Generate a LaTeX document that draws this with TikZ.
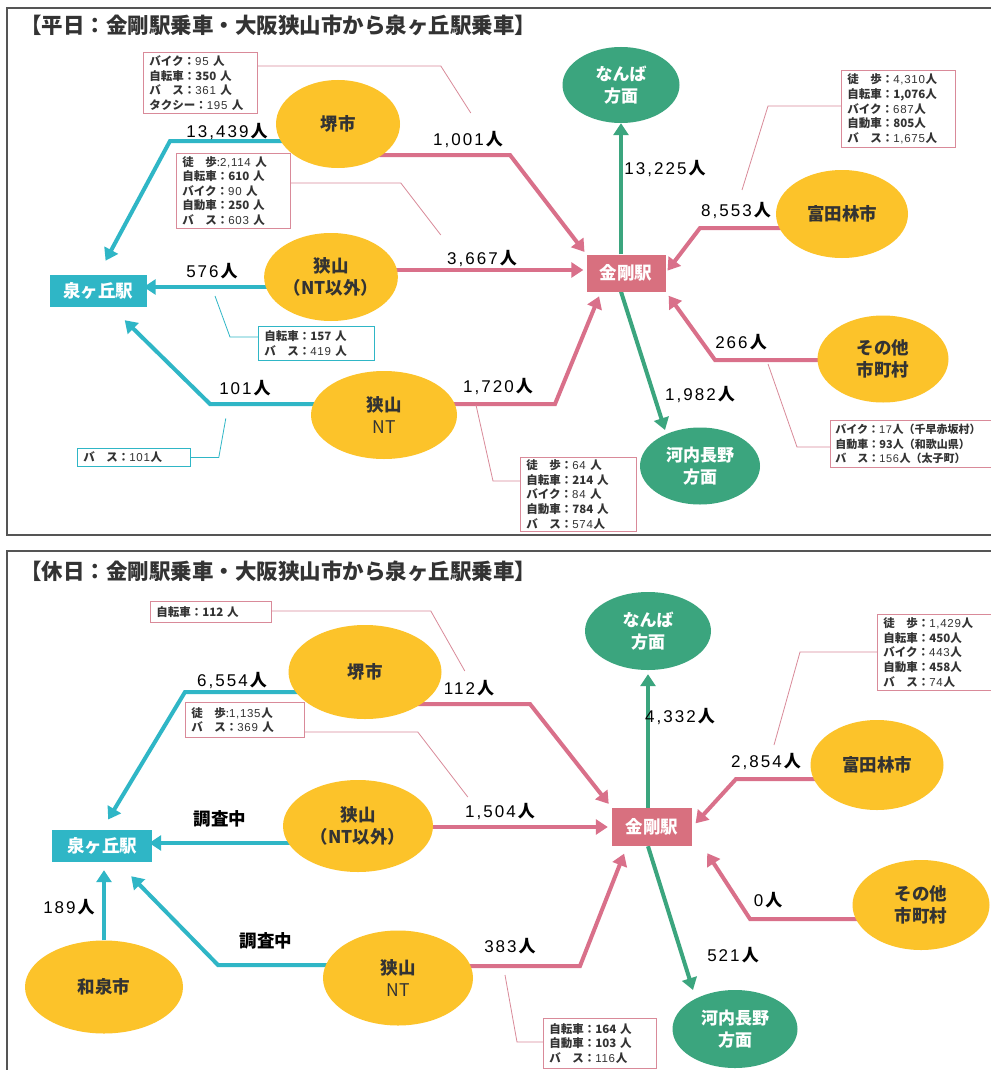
\documentclass[tikz,border=0pt]{standalone}
\usepackage{fontspec}
\setmainfont{Noto Sans CJK JP}
\newfontfamily\numfont{Liberation Sans}[LetterSpace=12]
\newfontfamily\boxnum{Liberation Sans}[LetterSpace=6]
\usetikzlibrary{shapes.geometric,arrows.meta,backgrounds}
\definecolor{tealc}{HTML}{2FB6C6}
\definecolor{pinkc}{HTML}{D9708A}
\definecolor{kongoc}{HTML}{D8707F}
\definecolor{greenc}{HTML}{3BA57E}
\definecolor{yellowc}{HTML}{FCC32A}
\definecolor{textc}{HTML}{333333}
\definecolor{boxpink}{HTML}{D98A99}
\definecolor{framec}{HTML}{555555}
\newcommand\hb{\textbf{人}}
\newcommand\bsu{\textbf{バ\hspace{1em}ス：}}
\newcommand\toho{\textbf{徒\hspace{1em}歩：}}
\newcommand\nv[1]{{\numfont #1}\textbf{人}}
\newcommand\bv[1]{{\boxnum #1}}
\begin{document}
\begin{tikzpicture}[x=1pt,y=-1pt,
  yel/.style={ellipse, fill=yellowc, text=textc, font=\bfseries\fontsize{17.5}{22}\selectfont, align=center, inner sep=0pt},
  grn/.style={ellipse, fill=greenc, text=white, font=\bfseries\fontsize{17}{22}\selectfont, align=center, inner sep=0pt},
  station/.style={rectangle, text=white, font=\bfseries\fontsize{17.5}{20}\selectfont, inner sep=0pt},
  tarr/.style={draw=tealc, line width=4pt, -{Triangle[width=15pt,length=12pt]}},
  parr/.style={draw=pinkc, line width=4pt, -{Triangle[width=15pt,length=12pt]}},
  garr/.style={draw=greenc, line width=4pt, -{Triangle[width=15pt,length=12pt]}},
  num/.style={font=\fontsize{17}{20}\selectfont, text=black, inner sep=0pt},
  chosa/.style={font=\bfseries\fontsize{17.5}{20}\selectfont, text=black, inner sep=0pt},
  infobox/.style={draw=boxpink, line width=0.8pt, fill=white, anchor=north west, align=left, font=\fontsize{11.5}{14.6}\selectfont, inner xsep=6pt, inner ysep=0pt, text=textc},
  tinfobox/.style={infobox, draw=tealc},
  call/.style={draw=boxpink, line width=0.8pt},
  tcall/.style={draw=tealc, line width=0.8pt},
  frame/.style={draw=framec, line width=1.5pt},
  title/.style={anchor=west, font=\bfseries\fontsize{21.5}{24}\selectfont, text=textc, inner sep=0pt}
]
\useasboundingbox (0,0) rectangle (990,1070);

% ---------- top panel ----------
\node[title] (t1) at (20,25) {【平日：金剛駅乗車・大阪狭山市から泉ヶ丘駅乗車】};

\node[yel, minimum width=124pt, minimum height=88pt] (sakai1) at (338,124) {堺市};
\node[yel, minimum width=122pt, minimum height=88pt] (sayama1) at (331,277) {狭山\\（NT以外）};
\node[yel, minimum width=146pt, minimum height=88pt] (nt1) at (384,415) {狭山\\{\mdseries NT}};
\node[yel, minimum width=132pt, minimum height=88pt] (tomita1) at (842,214) {富田林市};
\node[yel, minimum width=131pt, minimum height=87pt] (sonota1) at (883,359) {その他\\市町村};
\node[grn, minimum width=117pt, minimum height=76pt] (nanba1) at (621,85) {なんば\\方面};
\node[grn, minimum width=120pt, minimum height=77pt] (kawachi1) at (700,466) {河内長野\\方面};
\node[station, fill=tealc, minimum width=97pt, minimum height=32pt] (izumi1) at (98,291) {泉ヶ丘駅};
\node[station, fill=kongoc, minimum width=79pt, minimum height=37pt] (kongo1) at (626,273) {金剛駅};

\coordinate (b1) at (170,141);
\coordinate (b3) at (210,404);
\coordinate (b4) at (510,155);
\coordinate (b6) at (555,404);
\coordinate (b9) at (700,228);
\coordinate (b10) at (715,360);

\node[infobox, text width=102pt, minimum height=61pt] (boxA) at (143,52)
  {\textbf{バイク：}\bv{95} \hb\\\textbf{自転車：350 人}\\\bsu \bv{361} \hb\\\textbf{タクシー：}\bv{195} \hb};
\node[infobox, text width=102pt, minimum height=75pt] (boxB) at (176,153)
  {\textbf{徒\hspace{1em}歩}:\bv{2,114} \hb\\\textbf{自転車：610 人}\\\textbf{バイク：}\bv{90} \hb\\\textbf{自動車：250 人}\\\bsu \bv{603} \hb};
\node[tinfobox, text width=104pt, minimum height=34pt] (boxC) at (258,326)
  {\textbf{自転車：157 人}\\\bsu \bv{419} \hb};
\node[tinfobox, text width=101pt, minimum height=18pt] (boxD) at (77,448)
  {\bsu \bv{101}\hb};
\node[infobox, text width=102pt, minimum height=77pt] (boxE) at (841,70)
  {\toho \bv{4,310}\hb\\\textbf{自転車：1,076人}\\\textbf{バイク：}\bv{687}\hb\\\textbf{自動車：805人}\\\bsu \bv{1,675}\hb};
\node[infobox, font=\fontsize{11}{14.6}\selectfont, inner xsep=5pt, text width=152pt, minimum height=47pt] (boxF) at (830,420)
  {\textbf{バイク：}\bv{17}\textbf{人（千早赤坂村）}\\\textbf{自動車：93人（和歌山県）}\\\bsu \bv{156}\textbf{人（太子町）}};
\node[infobox, text width=104pt, minimum height=74pt] (boxG) at (520,457)
  {\toho \bv{64} \hb\\\textbf{自転車：214 人}\\\textbf{バイク：}\bv{84} \hb\\\textbf{自動車：784 人}\\\bsu \bv{574}\hb};

\node[num] (l1) at (227,131) {\nv{13,439}};
\node[num] (l2) at (468,139) {\nv{1,001}};
\node[num] (l3) at (482,258) {\nv{3,667}};
\node[num] (l4) at (212,271) {\nv{576}};
\node[num] (l5) at (245,388) {\nv{101}};
\node[num] (l6) at (498,386) {\nv{1,720}};
\node[num] (l7) at (665,168) {\nv{13,225}};
\node[num] (l8) at (736,210) {\nv{8,553}};
\node[num] (l9) at (741,342) {\nv{266}};
\node[num] (l10) at (700,394) {\nv{1,982}};

% ---------- bottom panel ----------
\node[title] (t2) at (20,571) {【休日：金剛駅乗車・大阪狭山市から泉ヶ丘駅乗車】};

\node[yel, minimum width=153pt, minimum height=94pt] (sakai2) at (365,672) {堺市};
\node[yel, minimum width=150pt, minimum height=92pt] (sayama2) at (358,826) {狭山\\（NT以外）};
\node[yel, minimum width=150pt, minimum height=95pt] (nt2) at (398,978) {狭山\\{\mdseries NT}};
\node[yel, minimum width=158pt, minimum height=93pt] (wazumi) at (104,987) {和泉市};
\node[yel, minimum width=133pt, minimum height=90pt] (tomita2) at (877,765) {富田林市};
\node[yel, minimum width=137pt, minimum height=90pt] (sonota2) at (921,905) {その他\\市町村};
\node[grn, minimum width=126pt, minimum height=78pt] (nanba2) at (648,631) {なんば\\方面};
\node[grn, minimum width=125pt, minimum height=78pt] (kawachi2) at (735,1029) {河内長野\\方面};
\node[station, fill=tealc, minimum width=100pt, minimum height=32pt] (izumi2) at (102,846) {泉ヶ丘駅};
\node[station, fill=kongoc, minimum width=80pt, minimum height=38pt] (kongo2) at (652,827) {金剛駅};

\coordinate (d1) at (185,692);
\coordinate (d3) at (218,965);
\coordinate (d5) at (530,704);
\coordinate (d7) at (580,966);
\coordinate (d10) at (736,779);
\coordinate (d11) at (750,919);

\node[infobox, text width=109pt, minimum height=21pt] (boxH) at (150,601)
  {\textbf{自転車：112 人}};
\node[infobox, text width=107pt, minimum height=35pt] (boxI) at (185,702)
  {\textbf{徒\hspace{1em}歩}:\bv{1,135}\hb\\\bsu \bv{369} \hb};
\node[infobox, text width=108pt, minimum height=76pt] (boxJ) at (877,614)
  {\toho \bv{1,429}\hb\\\textbf{自転車：450人}\\\textbf{バイク：}\bv{443}\hb\\\textbf{自動車：458人}\\\bsu \bv{74}\hb};
\node[infobox, text width=101pt, minimum height=50pt] (boxK) at (543,1018)
  {\textbf{自転車：164 人}\\\textbf{自動車：103 人}\\\bsu \bv{116}\hb};

\node[num] (m1) at (232,680) {\nv{6,554}};
\node[num] (m2) at (469,688) {\nv{112}};
\node[chosa] (m3) at (220,819) {調査中};
\node[num] (m4) at (500,811) {\nv{1,504}};
\node[chosa] (m5) at (266,941) {調査中};
\node[num] (m6) at (69,907) {\nv{189}};
\node[num] (m7) at (510,946) {\nv{383}};
\node[num] (m8) at (680,716) {\nv{4,332}};
\node[num] (m9) at (766,761) {\nv{2,854}};
\node[num] (m10) at (768,900) {\nv{0}};
\node[num] (m11) at (733,955) {\nv{521}};

\begin{pgfonlayer}{background}
\fill[white] (0,0) rectangle (990,1070);
\draw[frame] (7,8) rectangle (1005,535);
\draw[frame] (7,551) rectangle (1005,1090);
% top connectors
\draw[tarr, shorten >=16pt] (sakai1.center |- b1) -- (b1) -- (izumi1.north);
\draw[tarr, shorten >=-3pt] ([yshift=-10pt]sayama1.center) -- ([yshift=4pt]izumi1.east);
\draw[tarr] (nt1.center |- b3) -- (b3) -- ([xshift=-22pt,yshift=-13pt]izumi1.south east);
\draw[parr, shorten >=3pt] (sakai1.center |- b4) -- (b4) -- (kongo1.north west);
\draw[parr, shorten >=3pt] ([yshift=7pt]sayama1.center) -- ([yshift=3pt]kongo1.west);
\draw[parr, shorten >=5pt] (nt1.center |- b6) -- (b6) -- ([xshift=-25pt]kongo1.south);
\draw[garr] ([xshift=-5pt]kongo1.north) -- (nanba1.south);
\draw[garr] ([xshift=-5pt]kongo1.south) -- ([xshift=-35pt,yshift=36pt]kawachi1.center);
\draw[parr, shorten >=3pt] (tomita1.center |- b9) -- (b9) -- (kongo1.east);
\draw[parr, shorten >=5pt] (sonota1.center |- b10) -- (b10) -- (kongo1.south east);
% top callouts
\draw[call] ([yshift=-14pt]boxA.north east) -- ++(183,0) -- ++(30,47);
\draw[call] ([yshift=-30pt]boxB.north east) -- ++(110,0) -- ++(40,52);
\draw[tcall] ([yshift=-11pt]boxC.north west) -- ++(-28,0) -- ++(-15,-41);
\draw[tcall] (boxD.east) -- ++(28,0) -- ++(7,-39);
\draw[call] ([yshift=-36pt]boxE.north west) -- ++(-73,0) -- ++(-26,84);
\draw[call] ([yshift=-27pt]boxF.north west) -- ++(-33,0) -- ++(-29,-83);
\draw[call] ([yshift=-24pt]boxG.north west) -- ++(-27,0) -- ++(-17,-76);
% bottom connectors
\draw[tarr, shorten >=12pt] (sakai2.center |- d1) -- (d1) -- (izumi2.north);
\draw[tarr, shorten >=-3pt] ([yshift=-17pt]sayama2.center) -- ([yshift=3pt]izumi2.east);
\draw[tarr] (nt2.center |- d3) -- (d3) -- ([xshift=-21pt,yshift=-14pt]izumi2.south east);
\draw[tarr] (wazumi.north) -- ([xshift=2pt,yshift=-8pt]izumi2.south);
\draw[parr, shorten >=5pt] (sakai2.center |- d5) -- (d5) -- (kongo2.north west);
\draw[parr, shorten >=4pt] ([yshift=-1pt]sayama2.center) -- (kongo2.west);
\draw[parr, shorten >=8pt] (nt2.center |- d7) -- (d7) -- ([xshift=-25pt]kongo2.south);
\draw[garr, shorten >=4pt] ([xshift=-4pt]kongo2.north) -- (nanba2.south);
\draw[garr] ([xshift=-4pt]kongo2.south) -- ([xshift=-42pt,yshift=39pt]kawachi2.center);
\draw[parr, shorten >=5pt] (tomita2.center |- d10) -- (d10) -- (kongo2.east);
\draw[parr] (sonota2.center |- d11) -- (d11) -- ([xshift=15pt,yshift=-7pt]kongo2.south east);
% bottom callouts
\draw[call] ([yshift=-10pt]boxH.north east) -- ++(159,0) -- ++(34,60);
\draw[call] ([yshift=-30pt]boxI.north east) -- ++(113,0) -- ++(50,65);
\draw[call] ([yshift=-38pt]boxJ.north west) -- ++(-77,0) -- ++(-26,93);
\draw[call] ([yshift=-24pt]boxK.north west) -- ++(-26,0) -- ++(-12,-67);
\end{pgfonlayer}
\end{tikzpicture}
\end{document}
